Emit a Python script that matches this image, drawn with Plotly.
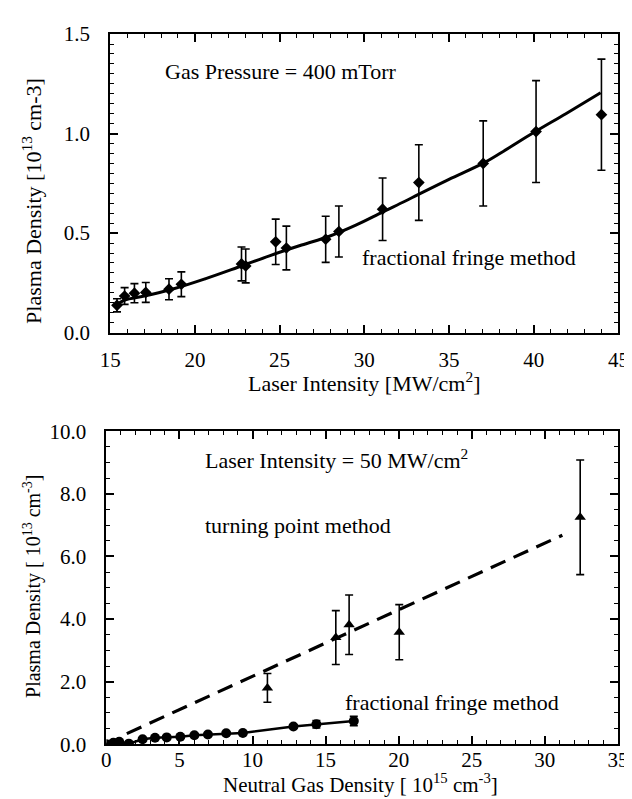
import plotly.graph_objects as go

# ---------------- Top panel data (Gas pressure = 400 mTorr) ----------------
top_x = [15.4, 15.85, 16.43, 17.1, 18.47, 19.2, 22.75, 23.0, 24.77, 25.4, 27.72, 28.5, 31.08, 33.22, 37.02, 40.14, 44.0]
top_y = [0.137, 0.184, 0.198, 0.202, 0.218, 0.243, 0.345, 0.335, 0.456, 0.425, 0.469, 0.508, 0.62, 0.754, 0.85, 1.01, 1.095]
top_err = [0.033, 0.042, 0.048, 0.05, 0.053, 0.062, 0.085, 0.085, 0.114, 0.11, 0.116, 0.128, 0.157, 0.19, 0.214, 0.256, 0.279]

top_fit_x = [15.2, 15.9, 16.8, 18.7, 20.6, 22.5, 24.4, 26.3, 27.9, 29.5, 31.1, 32.4, 33.2, 35.0, 37.0, 38.1, 40.0, 41.9, 43.95]
top_fit_y = [0.13, 0.165, 0.18, 0.219, 0.27, 0.327, 0.386, 0.44, 0.483, 0.54, 0.607, 0.66, 0.695, 0.77, 0.85, 0.905, 1.005, 1.10, 1.205]

# ---------------- Bottom panel data (Laser intensity = 50 MW/cm2) ----------
tp_x = [11.02, 15.7, 16.61, 20.04, 32.42]
tp_y = [1.80, 3.41, 3.82, 3.58, 7.25]
tp_err = [0.46, 0.86, 0.95, 0.88, 1.83]

tp_fit_x = [1.4, 31.2]
tp_fit_y = [0.34, 6.68]

ff_x = [0.0, 0.48, 0.88, 1.54, 2.48, 3.33, 4.13, 5.06, 6.02, 6.95, 8.2, 9.34, 12.8, 14.37, 16.93]
ff_y = [0.0, 0.05, 0.08, 0.02, 0.16, 0.21, 0.22, 0.24, 0.29, 0.31, 0.35, 0.36, 0.57, 0.64, 0.74]
ff_err = [0.03, 0.03, 0.03, 0.03, 0.03, 0.03, 0.03, 0.03, 0.03, 0.03, 0.03, 0.03, 0.05, 0.12, 0.15]

FONT = "Liberation Serif, Times New Roman, serif"
W, H = 632, 799

fig = go.Figure()

# top panel
fig.add_trace(go.Scatter(
    x=top_fit_x, y=top_fit_y, mode="lines", line=dict(color="black", width=3, shape="spline"),
    xaxis="x", yaxis="y", showlegend=False, hoverinfo="skip"))
fig.add_trace(go.Scatter(
    x=top_x, y=top_y, mode="markers",
    marker=dict(symbol="diamond", size=9, color="black"),
    error_y=dict(type="data", array=top_err, visible=True, color="black", thickness=1.6, width=4),
    xaxis="x", yaxis="y", showlegend=False))

# bottom panel
fig.add_trace(go.Scatter(
    x=tp_fit_x, y=tp_fit_y, mode="lines", line=dict(color="black", width=3.2, dash="16px,9px"),
    xaxis="x2", yaxis="y2", showlegend=False, hoverinfo="skip"))
fig.add_trace(go.Scatter(
    x=tp_x, y=tp_y, mode="markers",
    marker=dict(symbol="triangle-up", size=10, color="black"),
    error_y=dict(type="data", array=tp_err, visible=True, color="black", thickness=1.6, width=4),
    xaxis="x2", yaxis="y2", showlegend=False))
fig.add_trace(go.Scatter(
    x=ff_x, y=ff_y, mode="lines+markers",
    line=dict(color="black", width=2.5),
    marker=dict(symbol="circle", size=10, color="black"),
    error_y=dict(type="data", array=ff_err, visible=True, color="black", thickness=1.6, width=4),
    xaxis="x2", yaxis="y2", showlegend=False))

axis_common = dict(
    showline=True, linecolor="black", linewidth=2, mirror="allticks",
    ticks="inside", ticklen=8, tickwidth=1.5, tickcolor="black",
    showgrid=False, zeroline=False,
    tickfont=dict(family=FONT, size=21, color="black"),
)

fig.update_layout(
    width=W, height=H,
    margin=dict(l=0, r=0, t=0, b=0),
    paper_bgcolor="white", plot_bgcolor="white",
    font=dict(family=FONT, color="black"),
    xaxis=dict(axis_common, domain=[94.5 / W, 621 / W], anchor="y",
               range=[15, 45], dtick=5, tick0=15, ticklabelstandoff=7,
               minor=dict(ticks="inside", ticklen=4, dtick=1, tickcolor="black", tickwidth=1.2)),
    yaxis=dict(axis_common, domain=[1 - 322.3 / H, 1 - 14.5 / H], anchor="x",
               range=[0, 1.5], dtick=0.5, tickformat=".1f", ticklabelstandoff=14,
               minor=dict(ticks="inside", ticklen=4, dtick=0.05, tickcolor="black", tickwidth=1.2)),
    xaxis2=dict(axis_common, domain=[90.5 / W, 620.5 / W], anchor="y2",
                range=[0, 35], dtick=5, tick0=0, ticklabelstandoff=-4,
                minor=dict(ticks="inside", ticklen=4, dtick=1, tickcolor="black", tickwidth=1.2)),
    yaxis2=dict(axis_common, domain=[1 - 746.7 / H, 1 - 424 / H], anchor="x2",
                range=[0, 10], dtick=2, tickformat=".1f", ticklabelstandoff=14,
                minor=dict(ticks="inside", ticklen=4, dtick=0.5, tickcolor="black", tickwidth=1.2)),
)

ann_font = dict(family=FONT, size=22, color="black")
annotations = [
    # in-plot labels
    dict(x=18.1, y=1.311, xref="x", yref="y", text="Gas Pressure = 400 mTorr",
         xanchor="left", yanchor="middle", showarrow=False, font=ann_font),
    dict(x=29.75, y=0.375, xref="x", yref="y", text="fractional fringe method",
         xanchor="left", yanchor="middle", showarrow=False, font=ann_font),
    dict(x=6.6, y=9.12, xref="x2", yref="y2", text="Laser Intensity = 50 MW/cm<sup>2</sup>",
         xanchor="left", yanchor="middle", showarrow=False, font=ann_font),
    dict(x=6.6, y=6.99, xref="x2", yref="y2", text="turning point method",
         xanchor="left", yanchor="middle", showarrow=False, font=ann_font),
    dict(x=16.18, y=1.33, xref="x2", yref="y2", text="fractional fringe method",
         xanchor="left", yanchor="middle", showarrow=False, font=ann_font),
    # axis titles
    dict(x=358 / W, y=1 - 373 / H, xref="paper", yref="paper",
         text="Laser Intensity [MW/cm<sup>2</sup>]",
         xanchor="center", yanchor="middle", showarrow=False, font=ann_font),
    dict(x=14 / W, y=1 - 187 / H, xref="paper", yref="paper", textangle=-90,
         text="Plasma Density [10<sup>13</sup> cm-3]",
         xanchor="center", yanchor="middle", showarrow=False, font=ann_font),
    dict(x=354 / W, y=1 - 787 / H, xref="paper", yref="paper",
         text="Neutral Gas Density [ 10<sup>15</sup> cm<sup>-3</sup>]",
         xanchor="center", yanchor="middle", showarrow=False,
         font=dict(family=FONT, size=21, color="black")),
    dict(x=14 / W, y=1 - 584 / H, xref="paper", yref="paper", textangle=-90,
         text="Plasma Density [ 10<sup>13</sup> cm<sup>-3</sup>]",
         xanchor="center", yanchor="middle", showarrow=False,
         font=dict(family=FONT, size=20, color="black")),
]
fig.update_layout(annotations=annotations)

fig.write_html("out.html")
